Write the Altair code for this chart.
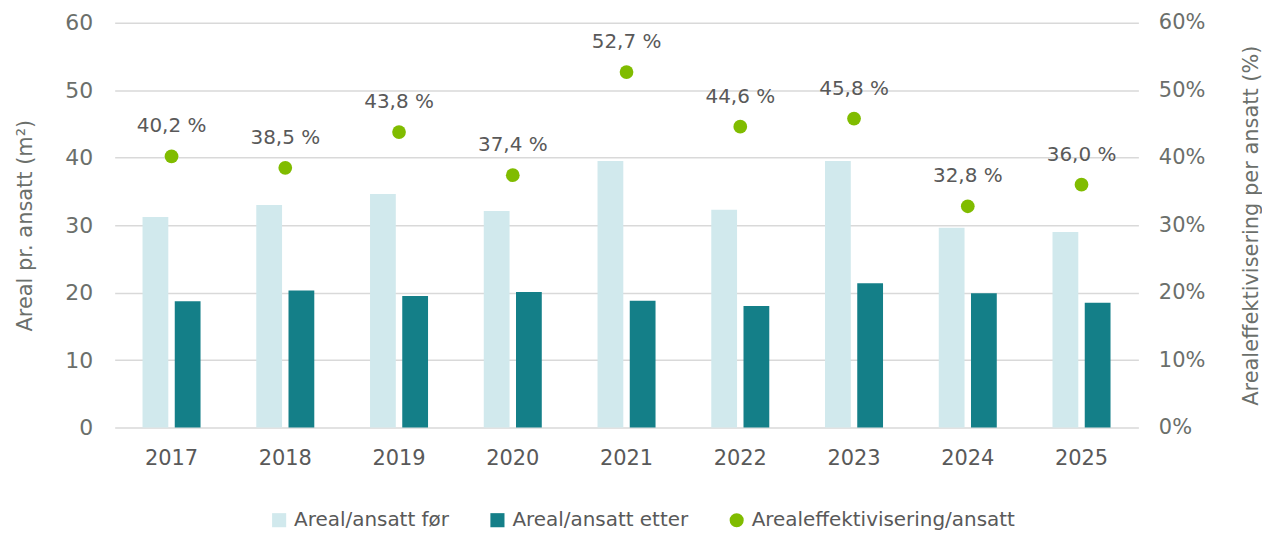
import altair as alt
import pandas as pd

years = ["2017", "2018", "2019", "2020", "2021", "2022", "2023", "2024", "2025"]
before = [31.2, 33.0, 34.6, 32.1, 39.5, 32.3, 39.5, 29.6, 29.0]
after = [18.7, 20.3, 19.5, 20.1, 18.8, 18.0, 21.4, 19.9, 18.5]
eff = [40.2, 38.5, 43.8, 37.4, 52.7, 44.6, 45.8, 32.8, 36.0]

S_BEFORE = "Areal/ansatt før"
S_AFTER = "Areal/ansatt etter"
S_EFF = "Arealeffektivisering/ansatt"
series = [S_BEFORE, S_AFTER, S_EFF]
colors = ["#d1e9ed", "#147f88", "#80bc00"]
shapes = ["square", "square", "circle"]

bars_df = pd.DataFrame(
    [{"year": y, "series": S_BEFORE, "value": v} for y, v in zip(years, before)]
    + [{"year": y, "series": S_AFTER, "value": v} for y, v in zip(years, after)]
)
eff_df = pd.DataFrame({"year": years, "series": S_EFF, "pct": eff})
eff_df["label"] = [f"{v:.1f} %".replace(".", ",") for v in eff]

FONT = "DejaVu Sans"
TXT = "#595959"
AX = "#6b6f6b"

color = alt.Color("series:N", scale=alt.Scale(domain=series, range=colors),
                  legend=alt.Legend(title=None))
shape = alt.Shape("series:N", scale=alt.Scale(domain=series, range=shapes),
                  legend=alt.Legend(title=None))

x = alt.X("year:N", sort=years, title=None,
          scale=alt.Scale(paddingInner=0.49, paddingOuter=0.245),
          axis=alt.Axis(labelAngle=0, ticks=False, domain=False, labelPadding=20,
                        labelFontSize=21, labelColor=TXT, labelFont=FONT))

bars = alt.Chart(bars_df).mark_bar().encode(
    x=x,
    xOffset=alt.XOffset("series:N", sort=[S_BEFORE, S_AFTER],
                        scale=alt.Scale(paddingInner=0.2, paddingOuter=0)),
    y=alt.Y("value:Q", title="Areal pr. ansatt (m²)",
            scale=alt.Scale(domain=[0, 60], nice=False),
            axis=alt.Axis(values=[0, 10, 20, 30, 40, 50, 60], ticks=False, domain=False,
                          gridColor="#d9d9d9", gridWidth=1.5, labelPadding=22,
                          labelFontSize=22, labelColor=AX, labelFont=FONT,
                          titleFontSize=21, titleColor=AX, titleFont=FONT,
                          titleFontWeight="normal", titlePadding=29)),
    color=color,
)

y_eff = alt.Y("pct:Q", title="Arealeffektivisering per ansatt (%)",
              scale=alt.Scale(domain=[0, 60], nice=False),
              axis=alt.Axis(orient="right", values=[0, 10, 20, 30, 40, 50, 60],
                            labelExpr="datum.value + '%'", grid=False, ticks=False,
                            domain=False, labelPadding=20, labelFontSize=21,
                            labelColor=AX, labelFont=FONT, titleFontSize=21,
                            titleColor=AX, titleFont=FONT, titleFontWeight="normal",
                            titleAngle=270, titlePadding=57))

points = alt.Chart(eff_df).mark_point(size=190, opacity=1, filled=True).encode(
    x=x, y=y_eff, color=color, shape=shape,
)
labels = alt.Chart(eff_df).mark_text(dy=-30, fontSize=20, color=TXT, font=FONT).encode(
    x=x, y=y_eff, text="label:N",
)

chart = alt.layer(bars, alt.layer(points, labels)).resolve_scale(y="independent").properties(
    width=1027, height=406,
    padding={"left": 7, "top": 3, "right": 0, "bottom": 2},
).configure_view(stroke=None).configure_legend(
    orient="none", direction="horizontal", legendX=155, legendY=489,
    labelFont=FONT, labelFontSize=20, labelColor=TXT, labelLimit=500,
    symbolSize=200, symbolStrokeWidth=0, columnPadding=38, labelOffset=5,
)

chart.save("out.html", embed_options={"renderer": "svg", "actions": False})
